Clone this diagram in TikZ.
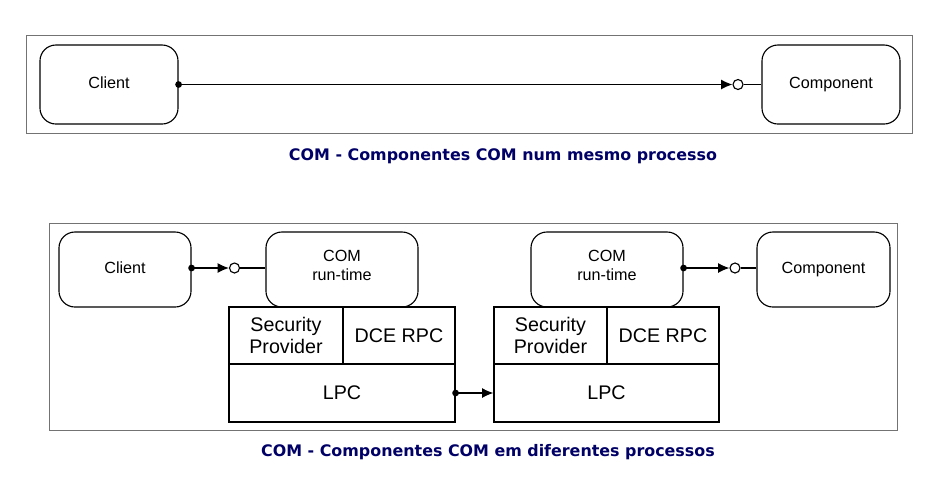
\documentclass[tikz,border=0pt]{standalone}
\usepackage{fontspec}
\setmainfont{Liberation Sans}
\newfontfamily\captionfont{DejaVu Sans}
\usetikzlibrary{arrows.meta}
\definecolor{captionblue}{HTML}{000066}
\begin{document}
\begin{tikzpicture}[x=0.025cm, y=-0.025cm, >={Latex[length=8pt,width=7pt]},
    frame/.style={draw=black!55, line width=0.6pt},
    roundbox/.style={draw, line width=0.8pt, rounded corners=0.4cm, font=\fontsize{11.5}{13}\selectfont, align=center},
    oneline/.style={text height=1.6ex, text depth=0.45ex},
    cell/.style={draw, line width=0.8pt, fill=white, font=\fontsize{14}{16}\selectfont, align=center, inner sep=0pt},
    lolly/.style={draw, line width=0.8pt, circle, minimum size=0.25cm, inner sep=0pt},
    link/.style={line width=0.8pt},
    caption/.style={font=\captionfont\bfseries\fontsize{11.3}{13}\selectfont, text=captionblue}]
  \useasboundingbox (0, 0) rectangle (952, 496);

  % same process
  \draw[frame] (26, 35) rectangle (912, 133);
  \node[roundbox, oneline, minimum width=3.45cm, minimum height=1.975cm] (client) at (109, 84.5) {Client};
  \node[roundbox, oneline, minimum width=3.45cm, minimum height=1.975cm] (component) at (831, 84.5) {Component};
  \node[lolly] (iface) at (738, 84.5) {};
  \draw[link, ->] (client.east) -- (iface.west);
  \draw[link] (iface.east) -- (component.west);
  \fill (client.east) circle (2.4pt);
  \node[caption] (cap1) at (503, 156) {COM - Componentes COM num mesmo processo};

  % different processes
  \draw[frame] (49, 223) rectangle (897, 430);
  \node[roundbox, oneline, minimum width=3.3cm, minimum height=1.875cm] (client2) at (125, 269.5) {Client};
  \node[roundbox, minimum width=3.8cm, minimum height=1.875cm, text depth=0.6em] (comL) at (342, 269.5) {COM\\run-time};
  \node[roundbox, minimum width=3.8cm, minimum height=1.875cm, text depth=0.6em] (comR) at (607, 269.5) {COM\\run-time};
  \node[roundbox, oneline, minimum width=3.325cm, minimum height=1.875cm] (component2) at (823.5, 269.5) {Component};

  \node[cell, minimum width=2.85cm, minimum height=1.425cm] (secL) at (286, 335.5) {Security\\Provider};
  \node[cell, minimum width=2.8cm, minimum height=1.425cm] (dceL) at (399, 335.5) {DCE RPC};
  \node[cell, minimum width=5.65cm, minimum height=1.45cm] (lpcL) at (342, 393) {LPC};
  \node[cell, minimum width=2.825cm, minimum height=1.425cm] (secR) at (550.5, 335.5) {Security\\Provider};
  \node[cell, minimum width=2.8cm, minimum height=1.425cm] (dceR) at (663, 335.5) {DCE RPC};
  \node[cell, minimum width=5.625cm, minimum height=1.45cm] (lpcR) at (606.5, 393) {LPC};

  \node[lolly] (ifaceL) at (234.5, 268) {};
  \node[lolly] (ifaceR) at (735, 268) {};
  \draw[link, ->] (client2.east |- ifaceL) -- (ifaceL.west);
  \draw[link] (ifaceL.east) -- (comL.west |- ifaceL);
  \fill (client2.east |- ifaceL) circle (2.4pt);
  \draw[link, ->] (comR.east |- ifaceR) -- (ifaceR.west);
  \draw[link] (ifaceR.east) -- (component2.west |- ifaceR);
  \fill (comR.east |- ifaceR) circle (2.4pt);
  \draw[link, ->] (lpcL.east) -- (lpcR.west);
  \fill (lpcL.east) circle (2.4pt);

  \node[caption] (cap2) at (488, 452) {COM - Componentes COM em diferentes processos};
\end{tikzpicture}
\end{document}
